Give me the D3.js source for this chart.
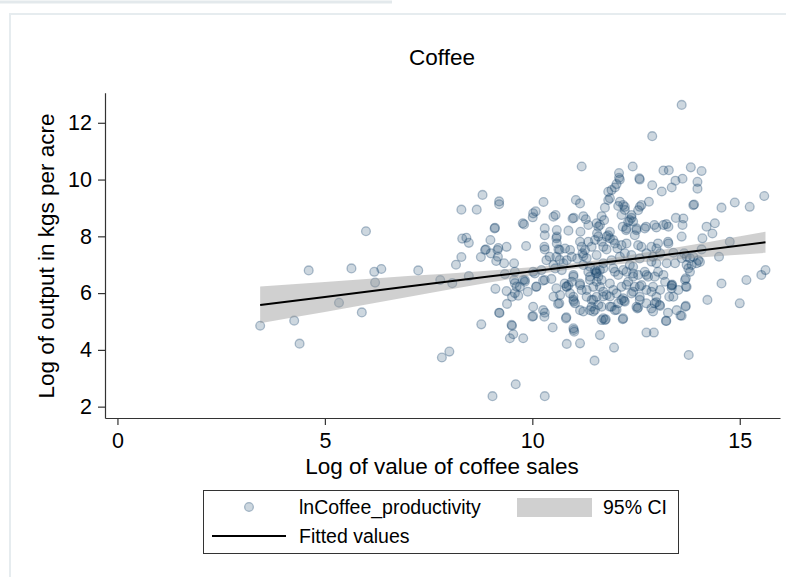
<!DOCTYPE html>
<html lang="en">
<head>
    <meta charset="UTF-8">
    <title>Coffee</title>
    <script src="https://cdn.jsdelivr.net/npm/d3@7"></script>
</head>
<body>
    <div class="marco"></div>

    <style>
        body, html {margin: 0; padding: 0; background: #fff;}
        svg {display: block;}
        text {font-family: "Liberation Sans", Arial, sans-serif; fill: #000;}
    </style>

    <script>
        // log of value of coffee sales (x) / log of output in kgs per acre (y)
        const farms = [
            [3.44,4.85],[4.26,5.03],[4.39,4.22],[4.61,6.80],[5.34,5.66],[5.64,6.87],[5.89,5.32],[5.99,8.18],
            [6.19,6.75],[6.21,6.37],[6.36,6.85],[7.25,6.80],[7.78,6.46],[7.82,3.73],[8.0,3.94],[8.07,6.35],
            [8.16,7.0],[8.29,8.94],[8.29,7.27],[8.31,7.92],[8.41,7.95],[8.47,7.77],[8.47,6.6],[8.66,8.94],
            [8.76,7.27],[8.77,4.9],[8.80,9.46],[8.86,7.52],[8.88,7.54],[8.99,7.87],[9.04,2.37],[9.09,8.28],
            [9.10,8.30],[9.11,6.15],[9.16,7.52],[9.17,7.28],[9.18,7.59],[9.20,5.31],[9.21,5.30],[9.20,9.23],
            [9.20,9.13],[9.13,7.13],[9.32,7.05],[9.38,7.63],[9.38,6.07],[9.39,5.62],[9.51,4.85],[9.54,4.55],
            [9.46,4.41],[9.56,7.05],[9.51,5.87],[9.6,2.79],[9.34,6.67],[9.56,6.46],[9.0,7.4],
            [9.77,8.46],[9.80,8.42],[9.85,7.66],[9.58,6.75],[9.78,6.46],[9.82,6.40],[9.66,5.91],[9.62,6.23],
            [9.58,6.35],[9.78,4.41],[9.58,6.0],[9.7,6.22],[9.89,6.05],[10.09,6.22],
            [13.60,12.63],[12.89,11.53],[11.19,10.46],[12.42,10.46],[13.82,10.43],[14.08,10.30],[13.16,10.32],[13.29,10.33],
            [12.09,10.23],[12.09,10.06],[12.11,10.0],[12.58,10.04],[12.59,10.0],[13.62,10.03],[13.45,9.96],[13.98,9.92],
            [13.98,9.68],[13.36,9.72],[12.89,9.80],[13.12,9.58],[12.03,9.84],[11.99,9.72],[11.83,9.57],[11.91,9.63],
            [11.87,9.34],[11.83,9.28],[15.59,9.42],[10.27,9.21],[11.05,9.28],[11.15,9.16],[12.81,9.22],[13.88,9.10],
            [13.90,9.12],[14.88,9.19],[14.56,9.01],[15.24,9.04],[11.75,9.01],[12.07,9.07],[12.23,9.04],[12.59,9.04],
            [12.55,8.92],[12.63,9.10],[12.11,9.22],[12.19,9.10],[12.23,8.93],[12.15,8.75],
            [10.02,8.81],[10.08,8.88],[10.01,8.67],[10.51,8.69],[10.56,8.75],[10.97,8.63],[11.0,8.65],[11.23,8.71],
            [11.29,8.60],[11.35,8.40],[11.67,8.71],[11.73,8.57],[11.63,8.40],[12.39,8.65],[12.31,8.51],[12.39,8.75],
            [12.35,8.57],[12.43,8.52],[13.46,8.65],[13.64,8.63],[13.62,8.40],
            [10.30,8.28],[10.30,8.04],[10.59,8.22],[10.59,7.99],[10.87,8.20],[11.16,8.16],[11.55,8.46],[11.59,8.34],
            [11.83,8.04],[11.87,7.93],[12.18,8.34],[12.26,8.22],[12.51,8.22],[12.47,8.04],[12.74,8.34],[12.94,8.40],
            [12.99,8.31],[13.16,8.40],[13.28,8.34],[13.23,8.43],[14.2,8.34],[14.4,8.46],[14.34,8.10],[14.10,7.93],
            [13.6,7.99],[14.76,7.81],[12.27,8.28],[12.51,8.28],[12.71,8.28],[11.56,8.11],[11.87,8.16],[11.79,7.99],
            [10.29,7.63],[10.30,7.54],[10.59,7.75],[10.63,7.54],[10.79,7.57],[10.91,7.52],[11.15,7.81],[11.19,7.63],
            [11.21,7.40],[11.35,7.81],[11.43,7.63],[11.59,7.99],[11.67,7.81],[11.71,7.63],[11.79,7.54],[11.99,7.75],
            [12.05,7.57],[12.27,7.75],[12.23,7.40],[12.55,7.69],[12.63,7.63],[12.87,7.63],[12.99,7.57],[13.28,7.75],
            [13.08,7.40],[13.4,7.42],[13.66,7.40],[13.72,7.28],[14.0,7.16],[14.04,7.10],[14.5,7.28],[13.27,7.81],
            [13.03,7.75],[14.08,7.54],[13.6,7.23],[13.8,7.23],[13.84,6.99],[12.91,7.28],
            [10.58,7.93],[10.66,7.52],[11.27,7.52],[11.51,7.87],[11.95,7.87],[12.15,7.69],[10.58,7.28],[10.66,7.17],
            [11.23,7.31],[11.31,7.23],
            [10.95,7.28],[11.08,7.22],[11.55,7.34],[11.91,7.16],[12.11,7.28],[12.39,7.34],[12.59,7.22],[12.75,7.40],
            [12.87,7.11],[12.99,7.05],[13.24,7.05],[13.44,7.05],[13.88,7.28],[13.96,7.05],[11.23,6.99],[11.39,6.93],
            [12.35,6.99],[12.43,6.93],[11.71,7.05],[10.75,7.05],[10.83,7.16],[10.34,7.16],[10.42,7.28],
            [10.02,6.75],[10.06,6.69],[10.22,6.81],[10.51,6.99],[10.55,6.87],[10.71,6.81],[10.99,6.64],[10.95,6.40],
            [11.35,6.75],[11.39,6.58],[11.51,6.81],[11.55,6.69],[11.59,6.58],[11.53,6.72],[11.63,6.81],[11.71,6.87],
            [11.95,6.87],[11.99,6.75],[12.07,6.64],[12.19,6.81],[12.27,6.75],[12.43,6.69],[12.55,6.64],[12.71,6.75],
            [12.79,6.58],[12.95,6.58],[13.03,6.75],[13.16,6.64],[13.2,6.40],[13.36,6.28],[13.37,6.30],[13.68,6.46],
            [13.72,6.22],[13.72,6.99],[13.76,6.87],[13.8,6.75],[14.56,6.34],[15.16,6.46],[15.52,6.64],[15.62,6.81],
            [15.0,5.64],[14.22,5.76],
            [10.83,6.22],[10.87,6.28],[11.15,6.28],[11.19,6.11],[10.99,5.76],[11.03,5.64],[11.0,5.70],[10.65,5.64],
            [11.31,5.87],[11.47,5.76],[11.55,5.87],[11.71,6.05],[11.79,5.93],[11.95,6.11],[12.03,5.99],[12.19,5.82],
            [12.21,5.73],[12.43,6.05],[12.47,6.22],[12.51,5.52],[12.53,5.46],[12.55,5.49],[12.75,6.11],[12.87,6.05],
            [12.95,5.64],[13.08,5.55],[13.3,5.87],[13.48,5.40],[13.6,5.20],[13.70,5.55],
            [10.02,5.52],[10.0,5.17],[10.29,5.17],[10.3,5.31],[10.49,4.79],[10.81,5.11],[10.99,4.76],[11.0,4.70],
            [11.01,4.64],[11.15,5.40],[11.23,5.35],[11.39,5.40],[11.43,5.52],[11.67,5.05],[11.77,5.08],[11.99,5.40],
            [12.18,5.08],[12.19,5.11],[11.63,4.52],[11.15,4.23],[10.83,4.21],[11.97,4.08],[11.5,3.62],[12.75,4.61],
            [12.93,4.61],[13.22,5.02],[13.77,3.82],[10.3,2.37],[9.5,4.88],
            [10.26,6.44],[10.46,6.50],[10.51,5.87],[10.67,5.93],[10.26,5.40],
            [11.31,6.11],[11.47,6.22],[11.63,6.22],[11.87,6.34],[12.15,6.22],[12.31,6.40],[12.63,6.28],[12.91,6.22],
            [13.08,6.11],[13.40,5.87],[13.52,6.11],[10.91,5.99],[11.59,5.58],[11.87,5.52],[12.07,5.64],[12.75,5.64],
            [12.59,5.76],[12.99,5.87],
            [13.69,5.52],[13.57,5.21],[13.27,5.31],[13.23,5.02],[13.07,5.58],[12.91,5.35],[12.87,5.46],[12.99,5.68],
            [13.7,6.52],[13.7,6.23],[13.36,6.26],[13.36,6.17],[12.59,5.87],[12.15,5.76],[12.23,5.70],[12.39,5.99],
            [12.43,6.58],[12.27,6.29],[12.59,6.23],[12.75,6.64],
            [10.02,5.19],[10.62,5.62],[10.82,5.15],[11.51,5.41],[11.47,5.35],[11.71,5.11],[11.75,5.05],[11.67,5.52],
            [11.91,5.52],[12.03,5.41],[11.43,5.76],[11.71,5.88],[11.87,5.88],[9.82,6.46],[10.1,6.23],[10.3,6.46],
            [10.58,6.17],[10.78,6.34],[10.82,6.23],[10.99,6.58],[11.15,6.34],[10.99,5.87],[11.39,6.46],[11.55,6.76],
            [11.67,6.46],[11.55,6.40]
        ];

        // fitted values and 95% CI
        const fitX   = [3.44, 5, 7, 9, 11, 13, 15.62];
        const fitY   = [5.58, 5.86, 6.23, 6.59, 6.95, 7.31, 7.79];
        const ciLow  = [4.94, 5.33, 5.86, 6.38, 6.85, 7.13, 7.42];
        const ciHigh = [6.23, 6.39, 6.60, 6.80, 7.05, 7.49, 8.16];

        const xTicks = [0, 5, 10, 15];
        const yTicks = [2, 4, 6, 8, 10, 12];

        var width = 786, height = 577;
        var navy = "#1a476f";

        var svg = d3.select(".marco").append("svg")
            .attr("width", width)
            .attr("height", height);

        // marco claro del grafico
        svg.append("line")
            .attr("x1", 0).attr("x2", 392).attr("y1", 2).attr("y2", 2)
            .attr("stroke", "#e3e9ec").attr("stroke-width", 3);
        svg.append("rect")
            .attr("x", 10).attr("y", 14)
            .attr("width", 790).attr("height", 580)
            .attr("fill", "none")
            .attr("stroke", "#e6ecef").attr("stroke-width", 2);

        // escalas
        var x = d3.scaleLinear().domain([-0.3, 15.97]).range([105, 780]),
            y = d3.scaleLinear().domain([1.6, 13.06]).range([418, 92.7]);

        // puntos
        svg.append("g")
            .selectAll("circle")
            .data(farms)
            .enter().append("circle")
            .attr("cx", d => x(d[0]))
            .attr("cy", d => y(d[1]))
            .attr("r", 4.4)
            .attr("fill", navy)
            .attr("fill-opacity", 0.22)
            .attr("stroke", navy)
            .attr("stroke-opacity", 0.34)
            .attr("stroke-width", 1.3);

        // intervalo de confianza
        var fit = fitX.map((v, i) => ({x: v, y: fitY[i], lo: ciLow[i], hi: ciHigh[i]}));

        svg.append("path")
            .datum(fit)
            .attr("d", d3.area()
                .x(d => x(d.x))
                .y0(d => y(d.lo))
                .y1(d => y(d.hi))
                .curve(d3.curveMonotoneX))
            .attr("fill", "#969696")
            .attr("fill-opacity", 0.45);

        svg.append("path")
            .datum(fit)
            .attr("d", d3.line().x(d => x(d.x)).y(d => y(d.y)))
            .attr("fill", "none")
            .attr("stroke", "#000")
            .attr("stroke-width", 2);

        // ejes
        var gx = svg.append("g")
            .attr("transform", "translate(0, 418)")
            .call(d3.axisBottom(x).tickValues(xTicks).tickSize(7).tickSizeOuter(0).tickPadding(8));
        var gy = svg.append("g")
            .attr("transform", "translate(105, 0)")
            .call(d3.axisLeft(y).tickValues(yTicks).tickSize(7).tickSizeOuter(0).tickPadding(6));

        [gx, gy].forEach(g => {
            g.attr("font-family", null).attr("font-size", null);
            g.selectAll("path, line").attr("stroke", "#333").attr("stroke-width", 1.2);
            g.selectAll("text").style("font-size", "21.5px").attr("fill", "#000");
        });

        // titulos
        svg.append("text")
            .attr("x", 442).attr("y", 65)
            .attr("text-anchor", "middle")
            .style("font-size", "22.5px")
            .text("Coffee");

        svg.append("text")
            .attr("x", 442).attr("y", 474)
            .attr("text-anchor", "middle")
            .style("font-size", "22.5px")
            .text("Log of value of coffee sales");

        svg.append("text")
            .attr("transform", "translate(54, 256) rotate(-90)")
            .attr("text-anchor", "middle")
            .style("font-size", "22.5px")
            .text("Log of output in kgs per acre");

        // leyenda
        var leg = svg.append("g");
        leg.append("rect")
            .attr("x", 203.5).attr("y", 490.5)
            .attr("width", 475).attr("height", 63)
            .attr("fill", "#fff")
            .attr("stroke", "#333").attr("stroke-width", 1);
        leg.append("circle")
            .attr("cx", 249).attr("cy", 507).attr("r", 4.4)
            .attr("fill", navy).attr("fill-opacity", 0.22)
            .attr("stroke", navy).attr("stroke-opacity", 0.34).attr("stroke-width", 1.3);
        leg.append("rect")
            .attr("x", 517).attr("y", 498)
            .attr("width", 75).attr("height", 19)
            .attr("fill", "#969696").attr("fill-opacity", 0.45);
        leg.append("line")
            .attr("x1", 212).attr("x2", 286).attr("y1", 536).attr("y2", 536)
            .attr("stroke", "#000").attr("stroke-width", 2);
        leg.append("text").attr("x", 299).attr("y", 514)
            .style("font-size", "19.5px").text("lnCoffee_productivity");
        leg.append("text").attr("x", 603).attr("y", 514)
            .style("font-size", "19.5px").text("95% CI");
        leg.append("text").attr("x", 299).attr("y", 543)
            .style("font-size", "19.5px").text("Fitted values");
    </script>
</body>
</html>
